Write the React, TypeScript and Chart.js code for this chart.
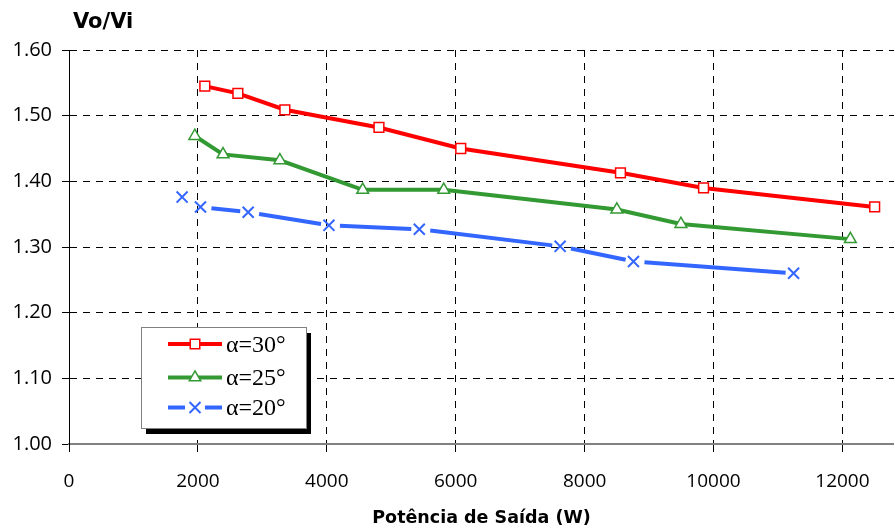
import React, { useEffect, useRef } from 'react';
import { Chart, registerables } from 'chart.js';

Chart.register(...registerables);

// ---- data ----
const xTickValues = [0, 2000, 4000, 6000, 8000, 10000, 12000];
const yTickValues = [1.0, 1.1, 1.2, 1.3, 1.4, 1.5, 1.6];

const seriesLabels = ['α=30°', 'α=25°', 'α=20°'];

const power30 = [2107, 2620, 3349, 4809, 6078, 8556, 9845, 12500];
const ratio30 = [1.545, 1.534, 1.509, 1.482, 1.450, 1.413, 1.390, 1.361];

const power25 = [1952, 2390, 3272, 4557, 5814, 8500, 9494, 12123];
const ratio25 = [1.469, 1.441, 1.432, 1.387, 1.387, 1.357, 1.335, 1.312];

const power20 = [1755, 2040, 2780, 4033, 5435, 7620, 8758, 11242];
const ratio20 = [1.376, 1.361, 1.353, 1.333, 1.327, 1.301, 1.278, 1.260];

const yTitle = 'Vo/Vi';
const xTitle = 'Potência de Saída (W)';

const RED = '#ff0000';
const GREEN = '#339933';
const BLUE = '#3366ff';

const toPoints = (xs: number[], ys: number[]) => xs.map((x, i) => ({ x, y: ys[i] }));

function drawMarker(ctx: CanvasRenderingContext2D, kind: string, x: number, y: number, color: string) {
  ctx.save();
  ctx.strokeStyle = color;
  ctx.fillStyle = '#ffffff';
  ctx.setLineDash([]);
  if (kind === 'rect') {
    ctx.lineWidth = 1.5;
    ctx.beginPath();
    ctx.rect(x - 4.75, y - 4.75, 9.5, 9.5);
    ctx.fill();
    ctx.stroke();
  } else if (kind === 'triangle') {
    ctx.lineWidth = 1.5;
    const r = 6.6;
    ctx.beginPath();
    ctx.moveTo(x, y - r);
    ctx.lineTo(x + r * 0.866, y + r * 0.5);
    ctx.lineTo(x - r * 0.866, y + r * 0.5);
    ctx.closePath();
    ctx.fill();
    ctx.stroke();
  } else {
    ctx.lineWidth = 2;
    const h = 5.5;
    ctx.beginPath();
    ctx.moveTo(x - h, y - h);
    ctx.lineTo(x + h, y + h);
    ctx.moveTo(x + h, y - h);
    ctx.lineTo(x - h, y + h);
    ctx.stroke();
  }
  ctx.restore();
}

const boxLegendPlugin = {
  id: 'boxLegend',
  afterDraw(chart: any) {
    const ctx: CanvasRenderingContext2D = chart.ctx;
    ctx.save();
    // y title
    ctx.fillStyle = '#000';
    ctx.font = 'bold 21px "DejaVu Sans"';
    ctx.textBaseline = 'middle';
    ctx.textAlign = 'left';
    ctx.fillText(yTitle, 73, 23);

    // legend box with shadow
    const bx = 141, by = 327, bw = 165, bh = 101;
    ctx.fillStyle = '#000';
    ctx.fillRect(bx + 5, by + 6, bw, bh);
    ctx.fillStyle = '#fff';
    ctx.fillRect(bx, by, bw, bh);
    ctx.strokeStyle = '#808080';
    ctx.lineWidth = 1;
    ctx.strokeRect(bx + 0.5, by + 0.5, bw, bh);

    const rows = [344, 377.5, 407.5];
    const kinds = ['rect', 'triangle', 'crossRot'];
    chart.data.datasets.forEach((ds: any, i: number) => {
      const y = rows[i];
      const x0 = 168, x1 = 222, xm = 195;
      ctx.strokeStyle = ds.borderColor;
      ctx.lineWidth = 4;
      ctx.lineCap = 'butt';
      ctx.beginPath();
      if (i === 2) {
        ctx.moveTo(x0, y); ctx.lineTo(x0 + 17, y);
        ctx.moveTo(x1 - 17, y); ctx.lineTo(x1, y);
      } else {
        ctx.moveTo(x0, y); ctx.lineTo(x1, y);
      }
      ctx.stroke();
      drawMarker(ctx, kinds[i], xm, y, ds.borderColor);
      ctx.fillStyle = '#000';
      ctx.font = '24px "Liberation Serif"';
      ctx.textBaseline = 'middle';
      ctx.textAlign = 'left';
      ctx.fillText(ds.label, 226, y + 1.5);
    });
    ctx.restore();
  },
};

export default function App() {
  const ref = useRef<HTMLCanvasElement | null>(null);

  useEffect(() => {
    document.body.style.margin = '0';
    const canvas = ref.current;
    if (!canvas) return;
    const chart = new Chart(canvas, {
      type: 'line',
      data: {
        datasets: [
          {
            label: seriesLabels[0],
            data: toPoints(power30, ratio30),
            borderColor: RED,
            backgroundColor: RED,
            borderWidth: 4,
            pointStyle: 'rect',
            pointRadius: 6.9,
            pointBorderWidth: 1.5,
            pointBackgroundColor: '#ffffff',
            pointBorderColor: RED,
            tension: 0,
          },
          {
            label: seriesLabels[1],
            data: toPoints(power25, ratio25),
            borderColor: GREEN,
            backgroundColor: GREEN,
            borderWidth: 4,
            pointStyle: 'triangle',
            pointRadius: 6.8,
            pointBorderWidth: 1.5,
            pointBackgroundColor: '#ffffff',
            pointBorderColor: GREEN,
            tension: 0,
          },
          {
            label: seriesLabels[2],
            data: toPoints(power20, ratio20),
            borderColor: BLUE,
            backgroundColor: BLUE,
            borderWidth: 4,
            pointStyle: 'crossRot',
            pointRadius: 7.8,
            pointBorderWidth: 2,
            pointBackgroundColor: '#ffffff',
            pointBorderColor: BLUE,
            tension: 0,
            segment: {
              borderDash: (c: any) => {
                const L = Math.hypot(c.p1.x - c.p0.x, c.p1.y - c.p0.y);
                const inner = L - 19;
                if (inner < 4) return [0, L + 1000];
                return [0, 11, inner, 1000];
              },
            },
          } as any,
        ],
      },
      options: {
        responsive: false,
        animation: false,
        events: [],
        layout: { autoPadding: false, padding: { top: 50, right: 0, left: 0, bottom: 0 } } as any,
        plugins: {
          legend: { display: false },
          tooltip: { enabled: false },
          title: { display: false },
        },
        scales: {
          x: {
            type: 'linear',
            min: 0,
            max: 12800,
            afterBuildTicks: (s: any) => {
              s.ticks = xTickValues.map((v) => ({ value: v }));
            },
            afterFit: (s: any) => {
              s.height = 87;
              s.paddingRight = 0;
              s.paddingLeft = 0;
            },
            ticks: {
              color: '#000',
              font: { family: '"Open Sans"', size: 19 },
              padding: 18,
              maxRotation: 0,
              autoSkip: false,
              callback: (v: any) => String(v),
            },
            grid: {
              color: (c: any) => (c.tick && c.tick.value === 0 ? 'rgba(0,0,0,0)' : '#000'),
              lineWidth: 1,
              drawTicks: true,
              tickLength: 8,
              tickColor: '#000',
              tickWidth: 1,
              tickBorderDash: [],
            } as any,
            border: { display: true, color: '#808080', width: 2, dash: [7, 6] } as any,
            title: {
              display: true,
              text: xTitle,
              color: '#000',
              font: { family: '"DejaVu Sans"', size: 17.5, weight: 'bold' },
              padding: { top: 0, bottom: 2 },
            },
          },
          y: {
            type: 'linear',
            min: 1.0,
            max: 1.6,
            afterBuildTicks: (s: any) => {
              s.ticks = yTickValues.map((v) => ({ value: v }));
            },
            afterFit: (s: any) => {
              s.width = 69;
            },
            ticks: {
              color: '#000',
              font: { family: '"Open Sans"', size: 20 },
              padding: 10,
              callback: (v: any) => Number(v).toFixed(2),
            },
            grid: {
              color: (c: any) => (c.tick && Math.abs(c.tick.value - 1.0) < 1e-9 ? 'rgba(0,0,0,0)' : '#000'),
              lineWidth: 1,
              drawTicks: true,
              tickLength: 7,
              tickColor: '#000',
              tickWidth: 1,
              tickBorderDash: [],
            } as any,
            border: { display: true, color: '#000', width: 1, dash: [7, 6] } as any,
          },
        },
      },
      plugins: [boxLegendPlugin],
    });
    return () => chart.destroy();
  }, []);

  return (
    <div style={{ width: 894, height: 531 }}>
      <canvas ref={ref} width={894} height={531} style={{ display: 'block' }} />
    </div>
  );
}
